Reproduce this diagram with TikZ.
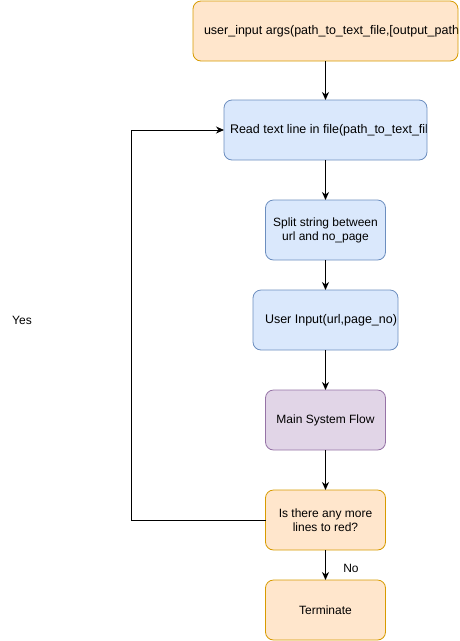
\documentclass[tikz,border=0pt]{standalone}
\usepackage{fontspec}
\setmainfont{Liberation Sans}
\usepackage{tikz}
\usetikzlibrary{positioning, arrows.meta}
\usepackage{xcolor}
\definecolor{mOrangeFill}{HTML}{FFE6CC}
\definecolor{mOrangeLine}{HTML}{D79B00}
\definecolor{mBlueFill}{HTML}{DAE8FC}
\definecolor{mBlueLine}{HTML}{6C8EBF}
\definecolor{mPurpleFill}{HTML}{E1D5E7}
\definecolor{mPurpleLine}{HTML}{9673A6}
\tikzset{
  font=\fontsize{12}{14}\selectfont,
  >={Stealth[length=8pt, width=7pt, inset=2.5pt]},
  box/.style={draw, rectangle, rounded corners=8pt, minimum height=60pt, inner sep=0pt, outer sep=0pt, align=center, line width=0.8pt},
  startbox/.style={box, fill=mOrangeFill, draw=mOrangeLine},
  procbox/.style={box, fill=mBlueFill, draw=mBlueLine},
  flowbox/.style={box, fill=mPurpleFill, draw=mPurpleLine},
  cuttext/.style 2 args={path picture={\node[anchor=west, inner sep=0pt, minimum width=0pt, minimum height=0pt, draw=none, fill=none, font=\fontsize{12.5}{14}\selectfont] at ([xshift=#1]path picture bounding box.west) {#2};}}
}

\begin{document}
\begin{tikzpicture}[line width=1pt]
        \useasboundingbox (0pt,0pt) rectangle (459pt,-641pt);
        \node[startbox, minimum width=265pt, cuttext={11pt}{user\_input args(path\_to\_text\_file,[output\_path}] (userargs) at (325.5pt,-31pt) {};
        \node[procbox, minimum width=203pt, below=39pt of userargs, cuttext={6pt}{Read text line in file(path\_to\_text\_file)}] (readline) {};
        \node[procbox, minimum width=120pt, below=40pt of readline] (splitstr) {Split string between\\ url and no\_page};
        \node[procbox, minimum width=145pt, below=30pt of splitstr, cuttext={12pt}{User Input(url,page\_no)}] (userinput) {};
        \node[flowbox, minimum width=120pt, below=40pt of userinput] (mainflow) {Main System Flow};
        \node[startbox, minimum width=120pt, below=40pt of mainflow] (morelines) {Is there any more\\ lines to red?};
        \node[startbox, minimum width=120pt, below=30pt of morelines] (terminate) {Terminate};
        \node (yeslabel) at (22pt,-320pt) {Yes};
        \coordinate[left=134pt of morelines.west] (loopback);

        \draw[->] (userargs) -- (readline);
        \draw[->] (readline) -- (splitstr);
        \draw[->] (splitstr) -- (userinput);
        \draw[->] (userinput) -- (mainflow);
        \draw[->] (mainflow) -- (morelines);
        \draw[->] (morelines) -- node[right=14pt, yshift=-3pt] (nolabel) {No} (terminate);
        \draw[->] (morelines.west) -- (loopback) |- (readline.west);
      \end{tikzpicture}
\end{document}
